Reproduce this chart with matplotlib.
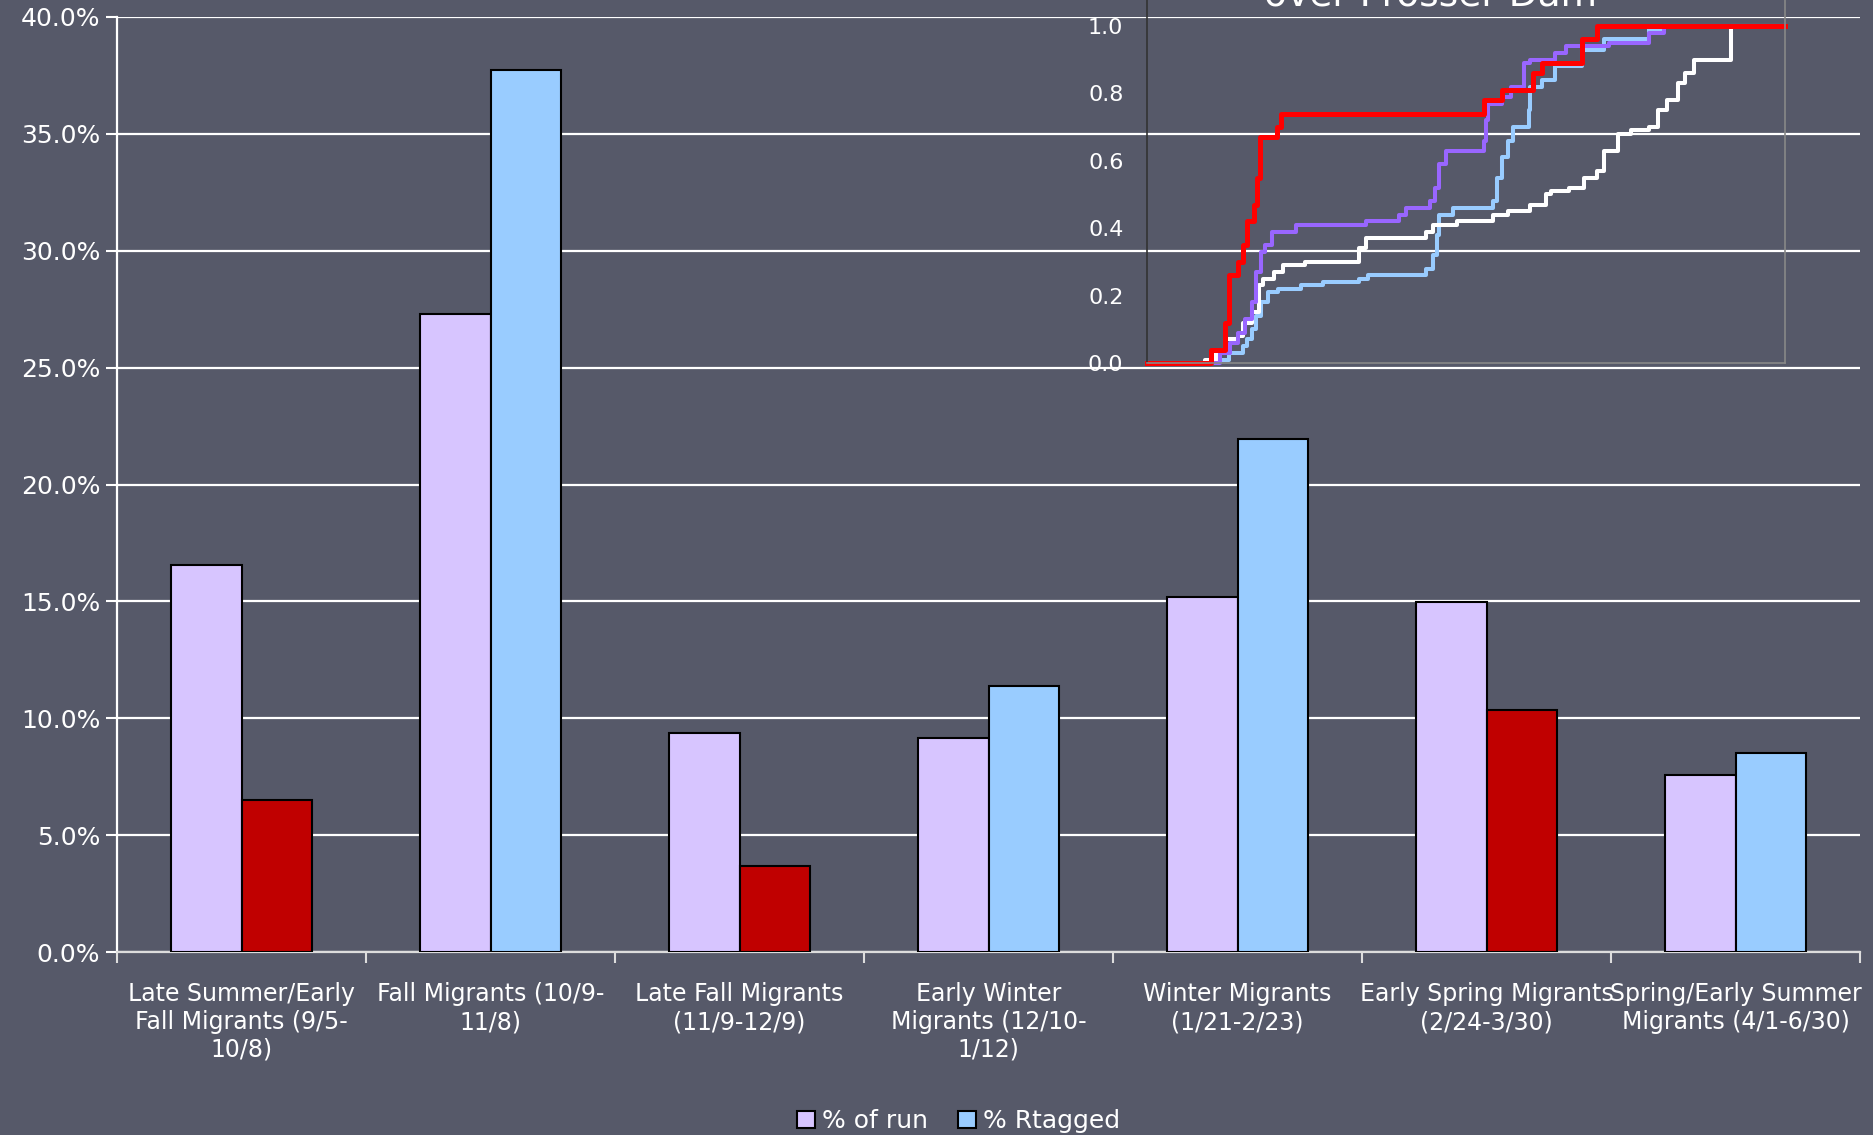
import matplotlib
matplotlib.use("Agg")
import matplotlib.pyplot as plt
import matplotlib.patches as mpatches
import numpy as np

# main chart data
categories = ["Late Summer/Early\nFall Migrants (9/5-\n10/8)",
              "Fall Migrants (10/9-\n11/8)",
              "Late Fall Migrants\n(11/9-12/9)",
              "Early Winter\nMigrants (12/10-\n1/12)",
              "Winter Migrants\n(1/21-2/23)",
              "Early Spring Migrants\n(2/24-3/30)",
              "Spring/Early Summer\nMigrants (4/1-6/30)"]
pct_run = [16.55, 27.3, 9.35, 9.15, 15.2, 14.97, 7.57]
pct_rtagged = [6.5, 37.75, 3.68, 11.38, 21.93, 10.35, 8.52]
rtag_colors = ['#C00000', '#99CCFF', '#C00000', '#99CCFF', '#99CCFF', '#C00000', '#99CCFF']

# inset cumulative curves (x in relative units 0-100)
red_x = [0, 10.1, 12.2, 12.9, 14.3, 15.0, 15.7, 16.8, 17.3, 17.7, 20.3, 21.0, 52.8, 55.6, 60.5, 61.9, 68.2, 70.6, 100]
red_y = [0, 0.04, 0.12, 0.26, 0.30, 0.35, 0.42, 0.47, 0.55, 0.67, 0.70, 0.74, 0.78, 0.81, 0.86, 0.89, 0.96, 1.0, 1.0]
purple_x = [0, 11.5, 13.0, 14.3, 15.4, 16.4, 17.1, 17.8, 18.5, 19.6, 23.4, 34.3, 39.5, 40.6, 44.4, 45.1, 45.8, 46.9,
            52.8, 53.2, 53.5, 55.6, 57.0, 59.1, 60.1, 64.0, 65.7, 72.4, 78.7, 81.1, 100]
purple_y = [0, 0.03, 0.06, 0.09, 0.13, 0.18, 0.27, 0.33, 0.35, 0.39, 0.41, 0.42, 0.44, 0.46, 0.48, 0.52, 0.59, 0.63,
            0.66, 0.72, 0.77, 0.79, 0.82, 0.89, 0.90, 0.92, 0.94, 0.95, 0.98, 1.0, 1.0]
blue_x = [0, 10.5, 12.9, 15.0, 15.7, 16.4, 17.1, 17.8, 18.9, 20.6, 24.1, 27.6, 33.2, 34.6, 43.7, 44.8, 45.5, 45.8,
          47.9, 54.2, 54.9, 55.6, 56.6, 57.3, 59.8, 60.1, 61.9, 64.0, 68.2, 71.7, 78.7, 81.1, 100]
blue_y = [0, 0.01, 0.03, 0.05, 0.07, 0.10, 0.14, 0.18, 0.21, 0.22, 0.23, 0.24, 0.25, 0.26, 0.28, 0.32, 0.38, 0.44,
          0.46, 0.48, 0.55, 0.61, 0.66, 0.70, 0.75, 0.82, 0.84, 0.88, 0.93, 0.96, 0.99, 1.0, 1.0]
white_x = [0, 9.1, 10.8, 12.2, 14.3, 15.0, 16.4, 17.5, 18.2, 19.9, 21.3, 24.8, 33.2, 34.3, 43.7, 44.8, 48.6, 54.2,
           56.6, 60.1, 62.6, 63.3, 66.1, 68.5, 70.6, 71.7, 73.8, 75.9, 78.7, 80.1, 81.5, 83.2, 84.3, 85.7, 91.6, 100]
white_y = [0, 0.01, 0.03, 0.07, 0.08, 0.12, 0.15, 0.23, 0.25, 0.27, 0.29, 0.30, 0.34, 0.37, 0.39, 0.41, 0.42, 0.44,
           0.45, 0.47, 0.50, 0.51, 0.52, 0.55, 0.57, 0.63, 0.68, 0.69, 0.70, 0.75, 0.78, 0.83, 0.86, 0.90, 1.0, 1.0]

bg = '#565969'
W, H = 1873, 1135
fig = plt.figure(figsize=(W/100, H/100), dpi=100, facecolor=bg)

ax = fig.add_axes([117/W, 1-952/H, (1860-117)/W, (952-17)/H])
ax.set_facecolor('none')

x = np.arange(len(categories))
bw = 0.285
ax.bar(x - bw/2, pct_run, bw, color='#D7C5FF', edgecolor='black', linewidth=1.5, zorder=3)
ax.bar(x + bw/2, pct_rtagged, bw, color=rtag_colors, edgecolor='black', linewidth=1.5, zorder=3)

ax.set_xlim(-0.5, len(categories) - 0.5)
ax.set_ylim(0, 40)
ax.set_yticks(np.arange(0, 41, 5))
ax.set_yticklabels(["%.1f%%" % v for v in np.arange(0, 41, 5)])
ax.grid(axis='y', color='white', linewidth=1.6, zorder=0)
ax.tick_params(axis='y', colors='white', labelsize=18, length=8, width=1.5, pad=4)

ax.set_xticks(np.arange(len(categories) + 1) - 0.5)
ax.set_xticklabels([])
ax.tick_params(axis='x', colors='#DDDDDD', length=8, width=1.5)
for i, lab in enumerate(categories):
    ax.text(i, -1.3, lab, ha='center', va='top', color='white', fontsize=17, linespacing=1.2)

for s in ['top', 'right']:
    ax.spines[s].set_visible(False)
ax.spines['left'].set_color('white')
ax.spines['left'].set_linewidth(1.6)
ax.spines['bottom'].set_color('#DDDDDD')
ax.spines['bottom'].set_linewidth(1.6)

handles = [mpatches.Patch(facecolor='#D7C5FF', edgecolor='black', linewidth=1.5, label='% of run'),
           mpatches.Patch(facecolor='#99CCFF', edgecolor='black', linewidth=1.5, label='% Rtagged')]
fig.legend(handles=handles, loc='center', bbox_to_anchor=(0.512, 0.0123), ncol=2, frameon=False,
           fontsize=18, labelcolor='white', handlelength=0.7, handleheight=0.7, handletextpad=0.3,
           columnspacing=1.2)

# inset
ylim_top = 1.1
ih = ylim_top * 337
ins = fig.add_axes([1147/W, 1-363/H, (1785-1147)/W, ih/H])
ins.set_facecolor('none')
ins.plot(blue_x, blue_y, drawstyle='steps-post', color='#99CCFF', lw=2.9, clip_on=False)
ins.plot(white_x, white_y, drawstyle='steps-post', color='white', lw=2.9, clip_on=False)
ins.plot(purple_x, purple_y, drawstyle='steps-post', color='#9966FF', lw=2.9, clip_on=False)
ins.plot(red_x, red_y, drawstyle='steps-post', color='#FF0000', lw=3.6, clip_on=False)
ins.set_xlim(0, 100)
ins.set_ylim(0, ylim_top)
ins.set_xticks([])
ins.set_yticks(np.arange(0, 1.01, 0.2))
ins.set_yticklabels(["%.1f" % v for v in np.arange(0, 1.01, 0.2)])
ins.tick_params(axis='y', colors='white', labelsize=16, length=0, pad=17)
ins.spines['top'].set_visible(False)
ins.spines['left'].set_color('#333333')
ins.spines['right'].set_color('#888888')
ins.spines['bottom'].set_color('#888888')
for s in ['left', 'right', 'bottom']:
    ins.spines[s].set_linewidth(1.2)

fig.text(1431/W, 1-5/H, 'over Prosser Dam', ha='center', va='baseline', color='white', fontsize=27)

fig.savefig('out.png', dpi=100, facecolor=bg)
